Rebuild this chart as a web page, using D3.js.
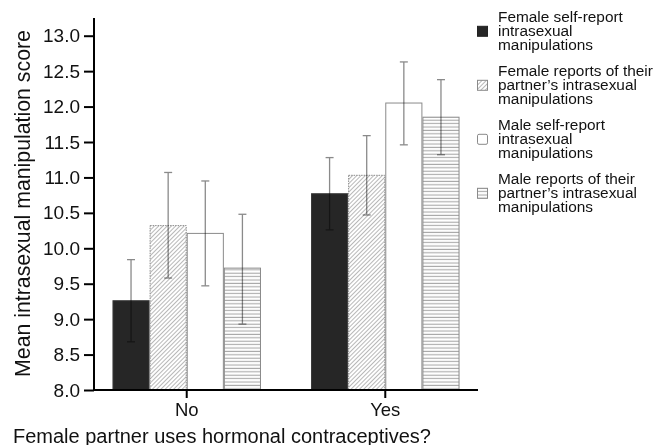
<!DOCTYPE html>
<html>
<head>
<meta charset="utf-8">
<script src="https://cdn.jsdelivr.net/npm/d3@7"></script>
<style>
  html, body { margin: 0; padding: 0; background: #fff; }
  svg { display: block; font-family: "Liberation Sans", Arial, Helvetica, sans-serif; }
</style>
</head>
<body>
<svg id="chart" width="661" height="445"></svg>
<script>
// ---- data ----
const categories = ["No", "Yes"];
const seriesNames = [
  "Female self-report intrasexual manipulations",
  "Female reports of their partner's intrasexual manipulations",
  "Male self-report intrasexual manipulations",
  "Male reports of their partner's intrasexual manipulations"
];
const legendLines = [
  ["Female self-report", "intrasexual", "manipulations"],
  ["Female reports of their", "partner\u2019s intrasexual", "manipulations"],
  ["Male self-report", "intrasexual", "manipulations"],
  ["Male reports of their", "partner\u2019s intrasexual", "manipulations"]
];
// means per series, [No, Yes]
const femaleSelf    = [9.26, 10.77];
const femalePartner = [10.32, 11.03];
const maleSelf      = [10.21, 12.05];
const malePartner   = [9.72, 11.85];
// error bar bounds [No, Yes]
const femaleSelfLow     = [8.68, 10.26];
const femaleSelfHigh    = [9.84, 11.28];
const femalePartnerLow  = [9.58, 10.47];
const femalePartnerHigh = [11.07, 11.59];
const maleSelfLow       = [9.47, 11.46];
const maleSelfHigh      = [10.95, 12.63];
const malePartnerLow    = [8.93, 11.32];
const malePartnerHigh   = [10.48, 12.38];
const yTicks = [8.0, 8.5, 9.0, 9.5, 10.0, 10.5, 11.0, 11.5, 12.0, 12.5, 13.0];
const yTitle = "Mean intrasexual manipulation score";
const xTitle = "Female partner uses hormonal contraceptives?";

const seriesValues = [femaleSelf, femalePartner, maleSelf, malePartner];
const seriesLow = [femaleSelfLow, femalePartnerLow, maleSelfLow, malePartnerLow];
const seriesHigh = [femaleSelfHigh, femalePartnerHigh, maleSelfHigh, malePartnerHigh];

// ---- layout ----
const svg = d3.select("#chart");
const plot = { left: 94, right: 478, top: 18, bottom: 390 };

const defs = svg.append("defs");
const diag = defs.append("pattern").attr("id", "diag").attr("patternUnits", "userSpaceOnUse")
  .attr("width", 3).attr("height", 3).attr("patternTransform", "rotate(45)");
diag.append("rect").attr("width", 3).attr("height", 3).attr("fill", "#fff");
diag.append("line").attr("x1", 0).attr("y1", 0).attr("x2", 0).attr("y2", 3)
  .attr("stroke", "#999").attr("stroke-width", 1.4);
const horiz = defs.append("pattern").attr("id", "horiz").attr("patternUnits", "userSpaceOnUse")
  .attr("width", 6).attr("height", 3.4);
horiz.append("rect").attr("width", 6).attr("height", 3.4).attr("fill", "#fff");
horiz.append("line").attr("x1", 0).attr("y1", 1.2).attr("x2", 6).attr("y2", 1.2)
  .attr("stroke", "#a8a8a8").attr("stroke-width", 1.1);

const styles = [
  { fill: "#262626", stroke: "#3a3a3a", dash: null },
  { fill: "url(#diag)", stroke: "#8a8a8a", dash: "1.5,1" },
  { fill: "#ffffff", stroke: "#8a8a8a", dash: null },
  { fill: "url(#horiz)", stroke: "#8a8a8a", dash: null }
];

const y = d3.scaleLinear().domain([8, 13.25]).range([plot.bottom, plot.top]);
const x0 = d3.scaleBand().domain(categories).range([plot.left, plot.right])
  .paddingInner(0.252).paddingOuter(0.093);
const x1 = d3.scaleBand().domain(d3.range(seriesNames.length)).range([0, x0.bandwidth()]);

// bars
const groups = svg.append("g").selectAll("g").data(categories).join("g")
  .attr("transform", d => `translate(${x0(d)},0)`);

groups.each(function(cat, ci) {
  const g = d3.select(this);
  seriesValues.forEach((vals, si) => {
    const st = styles[si];
    g.append("rect")
      .attr("x", x1(si) + 0.5)
      .attr("y", y(vals[ci]))
      .attr("width", x1.bandwidth() - 1)
      .attr("height", y(8) - y(vals[ci]))
      .attr("fill", st.fill)
      .attr("stroke", st.stroke)
      .attr("stroke-width", 1)
      .attr("stroke-dasharray", st.dash);
  });
  seriesValues.forEach((vals, si) => {
    const cx = x1(si) + x1.bandwidth() / 2;
    const eb = g.append("g").attr("stroke", "#8a8a8a").attr("stroke-width", 1.3)
      .style("mix-blend-mode", "multiply");
    eb.append("line").attr("x1", cx).attr("x2", cx)
      .attr("y1", y(seriesLow[si][ci])).attr("y2", y(seriesHigh[si][ci]));
    [seriesLow[si][ci], seriesHigh[si][ci]].forEach(v => {
      eb.append("line").attr("x1", cx - 4).attr("x2", cx + 4)
        .attr("y1", y(v)).attr("y2", y(v));
    });
  });
});

// axes
const yAxis = svg.append("g").attr("transform", `translate(${plot.left},0)`)
  .call(d3.axisLeft(y).tickValues(yTicks).tickFormat(d3.format(".1f")).tickSize(10).tickPadding(4));
yAxis.select(".domain").remove();
yAxis.append("line").attr("x1", 0).attr("x2", 0).attr("y1", plot.top).attr("y2", plot.bottom)
  .attr("stroke", "#000").attr("stroke-width", 2);
yAxis.selectAll(".tick line").attr("stroke-width", 2);
yAxis.selectAll(".tick text").attr("font-size", 19).attr("fill", "#111");

const xAxis = svg.append("g").attr("transform", `translate(0,${plot.bottom})`)
  .call(d3.axisBottom(x0).tickSize(8).tickPadding(5));
xAxis.select(".domain").remove();
xAxis.append("line").attr("x1", plot.left - 1).attr("x2", plot.right).attr("y1", 0).attr("y2", 0)
  .attr("stroke", "#000").attr("stroke-width", 2);
xAxis.selectAll(".tick line").attr("stroke-width", 2);
xAxis.selectAll(".tick text").attr("font-size", 18.5).attr("fill", "#111");

// titles
svg.append("text")
  .attr("transform", `translate(29.5,203.5) rotate(-90)`)
  .attr("text-anchor", "middle").attr("font-size", 21.3).attr("fill", "#111")
  .text(yTitle);
svg.append("text")
  .attr("x", 222).attr("y", 443)
  .attr("text-anchor", "middle").attr("font-size", 20).attr("fill", "#111")
  .text(xTitle);

// legend
const lg = svg.append("g").attr("transform", "translate(477,0)");
legendLines.forEach((lines, i) => {
  const base = 22 + i * 54;
  const lh = 13.8;
  const st = styles[i];
  lg.append("rect")
    .attr("x", 0.5).attr("y", base + lh - 9.5).attr("width", 10).attr("height", 10)
    .attr("fill", st.fill).attr("stroke", i === 0 ? "#222" : "#8a8a8a").attr("stroke-width", 1)
    .attr("rx", i === 2 ? 1.5 : 0);
  const t = lg.append("text").attr("font-size", 15.4).attr("fill", "#111");
  lines.forEach((ln, j) => {
    t.append("tspan").attr("x", 21).attr("y", base + j * lh).text(ln);
  });
});
</script>
</body>
</html>
